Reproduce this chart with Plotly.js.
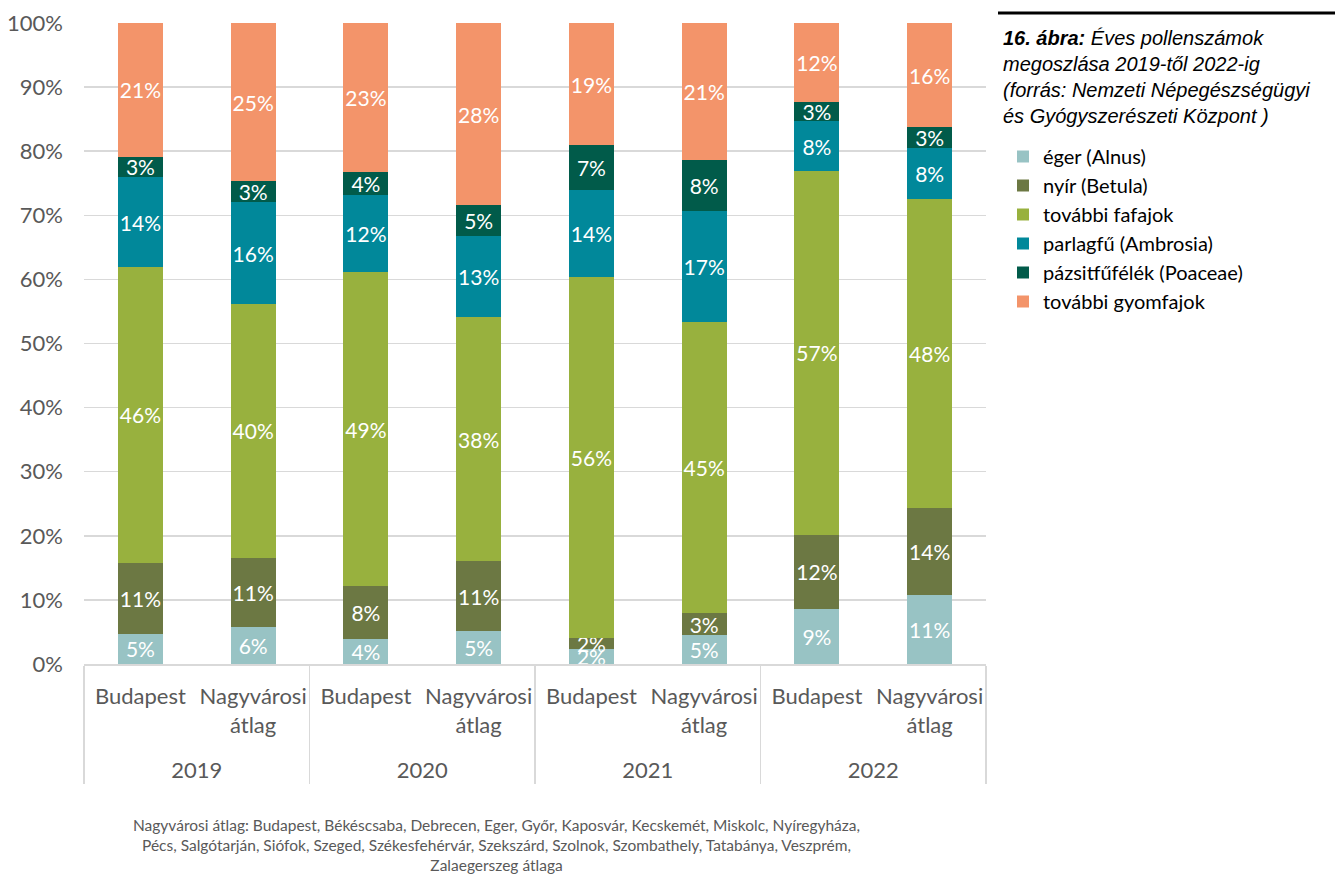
<!DOCTYPE html>
<html>
<head>
<meta charset="utf-8">
<script src="https://cdn.plot.ly/plotly-3.0.1.min.js"></script>
<style>html,body{margin:0;padding:0;background:#fff;}#chart{width:1335px;height:875px;}</style>
</head>
<body>
<div id="chart"></div>
<script>
var years = ["2019","2019","2020","2020","2021","2021","2022","2022"];
var places = ["Budapest","Nagyvárosi<br>átlag<br> ","Budapest","Nagyvárosi<br>átlag<br> ","Budapest","Nagyvárosi<br>átlag<br> ","Budapest","Nagyvárosi<br>átlag<br> "];

var seriesNames = ["éger (Alnus)","nyír (Betula)","további fafajok","parlagfű (Ambrosia)","pázsitfűfélék (Poaceae)","további gyomfajok"];
var eger     = [4.7, 5.7, 3.9, 5.1, 2.3, 4.5, 8.6, 10.8];
var nyir     = [11.1, 10.9, 8.3, 10.9, 1.8, 3.4, 11.6, 13.6];
var fafajok  = [46.1, 39.6, 48.9, 38.2, 56.2, 45.4, 56.7, 48.2];
var parlagfu = [14.1, 15.8, 12.0, 12.6, 13.6, 17.4, 7.8, 7.9];
var pazsit   = [3.1, 3.3, 3.6, 4.8, 7.0, 7.9, 2.9, 3.2];
var gyom     = [20.9, 24.7, 23.3, 28.4, 19.1, 21.4, 12.4, 16.3];
var yTicks = [0,10,20,30,40,50,60,70,80,90,100];

var colors = ["#98C3C4","#6C7843","#98B13E","#01889A","#015B4A","#F3946A"];
var values = [eger, nyir, fafajok, parlagfu, pazsit, gyom];

var font = "Lato, 'Open Sans', sans-serif";
var traces = values.map(function(v, i){
  return {
    type: "bar",
    name: seriesNames[i],
    x: [years, places],
    y: v,
    marker: {color: colors[i], line: {width: 0}},
    texttemplate: "%{y:.0f}%",
    textposition: "inside",
    insidetextanchor: "middle",
    textangle: 0,
    constraintext: "none",
    textfont: {color: "#FFFFFF", size: 21, family: font},
    hoverinfo: "skip"
  };
});

var L = 84, R = 986, T = 23, B = 664;
var pw = R - L, ph = B - T;
function px2x(p){ return (p - L) / pw; }
function px2y(p){ return (B - p) / ph; }

var layout = {
  width: 1335, height: 875,
  margin: {l: L, r: 1335 - R, t: T, b: 875 - B, pad: 0},
  paper_bgcolor: "#FFFFFF",
  plot_bgcolor: "#FFFFFF",
  barmode: "stack",
  bargap: 0.6,
  showlegend: true,
  uniformtext: {minsize: 21, mode: "show"},
  font: {family: font, color: "#595959", size: 21},
  title: {
    text: "<b><i>16. ábra:</i></b><i> Éves pollenszámok<br>megoszlása 2019-től 2022-ig<br>(forrás: Nemzeti Népegészségügyi<br>és Gyógyszerészeti Központ )</i>",
    font: {family: "'Liberation Sans', Arial, sans-serif", size: 20, color: "#000000"},
    x: 1003 / 1335, xanchor: "left", xref: "container",
    y: 1 - 45 / 875, yanchor: "top", yref: "container"
  },
  legend: {
    x: px2x(1003), xanchor: "left",
    y: px2y(137), yanchor: "top",
    traceorder: "normal",
    font: {family: font, size: 20, color: "#000000"},
    bgcolor: "rgba(0,0,0,0)",
    itemwidth: 30,
    tracegroupgap: 0
  },
  xaxis: {
    type: "multicategory",
    showline: true, linecolor: "#D9D9D9", linewidth: 1.5,
    showdividers: true, dividercolor: "#D9D9D9", dividerwidth: 1.5,
    tickfont: {family: font, size: 22, color: "#595959"},
    tickangle: 0,
    ticklabelstandoff: 12,
    ticks: "", showgrid: false, zeroline: false
  },
  yaxis: {
    range: [0, 100],
    tickvals: yTicks,
    ticktext: yTicks.map(function(t){ return t + "%"; }),
    showgrid: true, gridcolor: "#D9D9D9", gridwidth: 1.5,
    zeroline: false, showline: false, ticks: "",
    ticklabelstandoff: 20,
    tickfont: {family: font, size: 22, color: "#595959"}
  },
  shapes: [{
    type: "line", xref: "paper", yref: "paper",
    x0: px2x(998), x1: px2x(1335), y0: px2y(13), y1: px2y(13),
    line: {color: "#000000", width: 3}
  }],
  annotations: [{
    xref: "paper", yref: "paper",
    x: px2x(496), y: px2y(814), xanchor: "center", yanchor: "top",
    showarrow: false, align: "center",
    text: "Nagyvárosi átlag: Budapest, Békéscsaba, Debrecen, Eger, Győr, Kaposvár, Kecskemét, Miskolc, Nyíregyháza,<br>Pécs, Salgótarján, Siófok, Szeged, Székesfehérvár, Szekszárd, Szolnok, Szombathely, Tatabánya, Veszprém,<br>Zalaegerszeg átlaga",
    font: {family: font, size: 15.5, color: "#595959"}
  }]
};

Plotly.newPlot("chart", traces, layout, {displayModeBar: false, staticPlot: true});
</script>
</body>
</html>
